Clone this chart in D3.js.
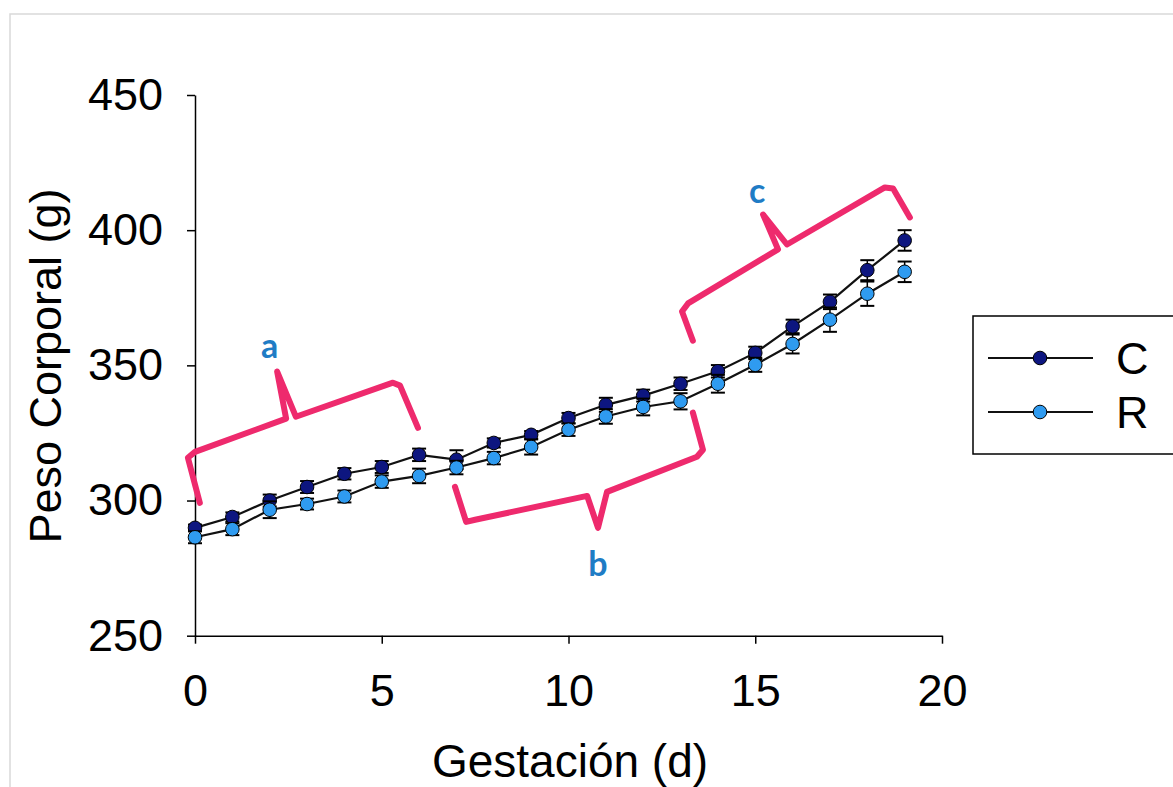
<!DOCTYPE html>
<html>
<head>
<meta charset="utf-8">
<script src="https://cdn.jsdelivr.net/npm/d3@7"></script>
<style>
  body { margin: 0; background: #fff; }
  svg { display: block; }
  text { font-family: "Liberation Sans", Arial, sans-serif; }
</style>
</head>
<body>
<svg id="chart" width="1173" height="787"></svg>
<script>
// days of gestation
var days = d3.range(0, 20);
// body weight, group C (mean, SE)
var weightC = [289.9, 293.9, 300.0, 305.0, 309.9, 312.4, 316.9, 315.1, 321.3, 324.3,
               330.5, 335.4, 338.8, 343.2, 347.8, 354.6, 364.4, 373.5, 385.2, 396.2];
var errC    = [1.2, 1.7, 2.2, 2.2, 2.1, 2.2, 2.3, 3.5, 1.7, 1.4,
               1.9, 2.6, 2.2, 2.3, 2.3, 2.3, 2.5, 2.7, 3.7, 3.8];
// body weight, group R (mean, SE)
var weightR = [286.4, 289.4, 296.6, 298.7, 301.5, 307.0, 309.1, 312.2, 315.7, 319.8,
               326.2, 331.1, 334.6, 336.7, 343.2, 350.2, 357.9, 366.9, 376.5, 384.6];
var errR    = [2.2, 2.2, 3.1, 2.0, 2.2, 2.3, 2.7, 2.5, 2.3, 2.8,
               2.3, 2.7, 3.1, 3.0, 3.3, 2.6, 3.5, 4.5, 4.5, 3.8];

var xTicks = [0, 5, 10, 15, 20];
var yTicks = [250, 300, 350, 400, 450];

// brace annotations, points in (day, grams)
var braceA = [[0.13, 299.1], [-0.19, 315.8], [0.0, 318.0], [2.44, 330.3], [2.20, 347.7],
              [2.70, 331.0], [5.30, 343.6], [5.49, 342.5], [5.97, 326.9]];
var braceB = [[6.96, 305.1], [7.26, 292.1], [7.50, 292.9], [10.50, 301.7], [10.79, 289.9],
              [11.03, 303.2], [13.44, 316.2], [13.60, 318.8], [13.33, 332.5]];
var braceC = [[13.33, 359.1], [13.04, 369.9], [13.20, 372.9], [15.61, 392.9], [15.21, 405.8],
              [15.85, 394.7], [18.47, 415.8], [18.69, 415.4], [19.14, 404.7]];
var braceLabels = [["a", 2.0, 356.9], ["b", 10.79, 276.2], ["c", 15.05, 414.0]];

var series = [
  { name: "C", values: weightC, errs: errC, fill: "#0d1680" },
  { name: "R", values: weightR, errs: errR, fill: "#2f9bf0" }
];

var svg = d3.select("#chart");

// faint frame around the picture
svg.append("rect")
  .attr("x", 10).attr("y", 14)
  .attr("width", 1200).attr("height", 800)
  .attr("fill", "none").attr("stroke", "#d9d9d9").attr("stroke-width", 1.5);

var x = d3.scaleLinear().domain([0, 20]).range([195, 942]);
var y = d3.scaleLinear().domain([250, 450]).range([635.7, 95]);

var xAxis = svg.append("g")
  .attr("transform", "translate(0," + y(250) + ")")
  .call(d3.axisBottom(x).tickValues(xTicks).tickSize(8).tickPadding(30).tickSizeOuter(0));
var yAxis = svg.append("g")
  .attr("transform", "translate(" + x(0) + ",0)")
  .call(d3.axisLeft(y).tickValues(yTicks).tickSize(8).tickPadding(24).tickSizeOuter(0));

[xAxis, yAxis].forEach(function (g) {
  g.select(".domain").attr("stroke", "#000").attr("stroke-width", 1.5);
  g.selectAll(".tick line").attr("stroke", "#000").attr("stroke-width", 1.5);
  g.selectAll(".tick text")
    .attr("fill", "#000")
    .style("font-size", "45px")
    .style("font-family", "'Liberation Sans', Arial, sans-serif");
});

svg.append("text")
  .attr("x", 570).attr("y", 777)
  .attr("text-anchor", "middle")
  .style("font-size", "46px")
  .text("Gestación (d)");

svg.append("text")
  .attr("transform", "translate(61," + 366 + ") rotate(-90)")
  .attr("text-anchor", "middle")
  .style("font-size", "45px")
  .text("Peso Corporal (g)");

// braces
var braceLine = d3.line().x(function (p) { return x(p[0]); }).y(function (p) { return y(p[1]); });
[braceA, braceB, braceC].forEach(function (b) {
  svg.append("path")
    .attr("d", braceLine(b))
    .attr("fill", "none")
    .attr("stroke", "#ee2a6d")
    .attr("stroke-width", 6)
    .attr("stroke-linejoin", "round")
    .attr("stroke-linecap", "round");
});
svg.selectAll(".brace-label").data(braceLabels).enter().append("text")
  .attr("class", "brace-label")
  .attr("x", function (d) { return x(d[1]); })
  .attr("y", function (d) { return y(d[2]) + 11; })
  .attr("text-anchor", "middle")
  .style("font-family", "Lato, 'Open Sans', sans-serif")
  .style("font-weight", "bold")
  .style("font-size", "34px")
  .attr("fill", "#1f7cc5")
  .text(function (d) { return d[0]; });

// series lines, error bars, markers
var line = d3.line()
  .x(function (d, i) { return x(days[i]); })
  .y(function (d) { return y(d); });

series.forEach(function (s) {
  svg.append("path")
    .attr("d", line(s.values))
    .attr("fill", "none")
    .attr("stroke", "#111")
    .attr("stroke-width", 2.2);
});

series.forEach(function (s) {
  var g = svg.append("g");
  var pts = s.values.map(function (v, i) { return { d: days[i], v: v, e: s.errs[i] }; });
  var eb = g.selectAll(".eb").data(pts).enter().append("g");
  eb.append("line")
    .attr("x1", function (p) { return x(p.d); }).attr("x2", function (p) { return x(p.d); })
    .attr("y1", function (p) { return y(p.v - p.e); }).attr("y2", function (p) { return y(p.v + p.e); })
    .attr("stroke", "#000").attr("stroke-width", 1.5);
  [-1, 1].forEach(function (sign) {
    eb.append("line")
      .attr("x1", function (p) { return x(p.d) - 7; }).attr("x2", function (p) { return x(p.d) + 7; })
      .attr("y1", function (p) { return y(p.v + sign * p.e); }).attr("y2", function (p) { return y(p.v + sign * p.e); })
      .attr("stroke", "#000").attr("stroke-width", 2);
  });
  g.selectAll(".pt").data(pts).enter().append("circle")
    .attr("cx", function (p) { return x(p.d); })
    .attr("cy", function (p) { return y(p.v); })
    .attr("r", 6.8)
    .attr("fill", s.fill)
    .attr("stroke", "#000")
    .attr("stroke-width", 1);
});

// legend
var legend = svg.append("g");
legend.append("rect")
  .attr("x", 973).attr("y", 316).attr("width", 240).attr("height", 138)
  .attr("fill", "#fff").attr("stroke", "#000").attr("stroke-width", 1.5);
series.forEach(function (s, i) {
  var ly = 358 + i * 54;
  legend.append("line")
    .attr("x1", 988).attr("x2", 1093).attr("y1", ly).attr("y2", ly)
    .attr("stroke", "#111").attr("stroke-width", 2);
  legend.append("circle")
    .attr("cx", 1040).attr("cy", ly).attr("r", 6.8)
    .attr("fill", s.fill).attr("stroke", "#000").attr("stroke-width", 1);
  legend.append("text")
    .attr("x", 1116).attr("y", ly + 16)
    .style("font-size", "45px")
    .text(s.name);
});
</script>
</body>
</html>
